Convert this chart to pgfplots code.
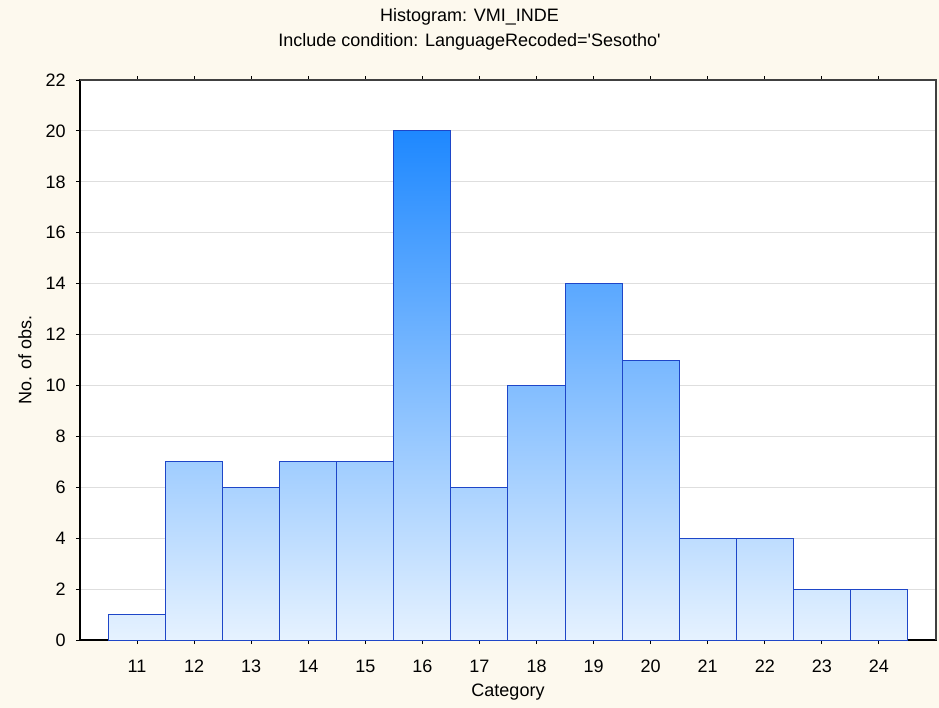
\documentclass[border=0pt]{standalone}
\usepackage{pgfplots}
\pgfplotsset{compat=1.18}
\usepackage{fontspec}
\setmainfont{Liberation Sans}
\definecolor{bgcream}{RGB}{253,249,238}
\definecolor{lo}{RGB}{230,242,255}
\definecolor{hi}{RGB}{30,136,255}
\definecolor{edge}{RGB}{30,70,200}
\definecolor{gridc}{RGB}{222,222,222}
\definecolor{framec}{RGB}{64,64,64}
\begin{document}
\begin{tikzpicture}
\fontsize{9}{11}\selectfont
\fill[bgcream] (-40pt,-34pt) rectangle (429.5pt,320pt);
\begin{axis}[
  scale only axis,
  width=428pt, height=280pt,
  xmin=10, xmax=25, ymin=0, ymax=22,
  xtick={11,...,24}, ytick={0,2,...,22},
  xtick pos=both, ytick pos=left,
  xticklabel pos=lower,
  tick align=inside,
  major tick length=2pt,
  y tick style={xshift=-2pt},
  tick style={black, line width=0.5pt},
  ymajorgrids, major grid style={gridc, line width=0.5pt},
  axis line style={black, line width=0.6pt},
  axis background/.style={fill=white},
  ticklabel style={font=\fontsize{9}{11}\selectfont},
  /pgf/number format/assume math mode=true,
  xticklabel style={anchor=base, yshift=-14pt},
  yticklabel style={anchor=east, xshift=-4pt},
  ybar, bar width=1, bar shift=0pt,
  every axis plot/.append style={draw=edge, line width=0.5pt},
  clip=false,
]
\addplot[top color=hi!5!lo, bottom color=lo] coordinates {(11,1)};
\addplot[top color=hi!35!lo, bottom color=lo] coordinates {(12,7)};
\addplot[top color=hi!30!lo, bottom color=lo] coordinates {(13,6)};
\addplot[top color=hi!35!lo, bottom color=lo] coordinates {(14,7)};
\addplot[top color=hi!35!lo, bottom color=lo] coordinates {(15,7)};
\addplot[top color=hi!100!lo, bottom color=lo] coordinates {(16,20)};
\addplot[top color=hi!30!lo, bottom color=lo] coordinates {(17,6)};
\addplot[top color=hi!50!lo, bottom color=lo] coordinates {(18,10)};
\addplot[top color=hi!70!lo, bottom color=lo] coordinates {(19,14)};
\addplot[top color=hi!55!lo, bottom color=lo] coordinates {(20,11)};
\addplot[top color=hi!20!lo, bottom color=lo] coordinates {(21,4)};
\addplot[top color=hi!20!lo, bottom color=lo] coordinates {(22,4)};
\addplot[top color=hi!10!lo, bottom color=lo] coordinates {(23,2)};
\addplot[top color=hi!10!lo, bottom color=lo] coordinates {(24,2)};
\draw[framec, line width=1pt] (rel axis cs:0,1) -- (rel axis cs:1,1) -- (rel axis cs:1,0);
\end{axis}
\node[anchor=base] at (194.75pt,309pt) {Histogram: VMI\_INDE};
\node[anchor=base] at (194.75pt,296.5pt) {Include condition: LanguageRecoded=\textquotesingle Sesotho\textquotesingle};
\node[anchor=base] at (214pt,-28.5pt) {Category};
\node[rotate=90] at (-27.5pt,140pt) {No. of obs.};
\end{tikzpicture}
\end{document}
